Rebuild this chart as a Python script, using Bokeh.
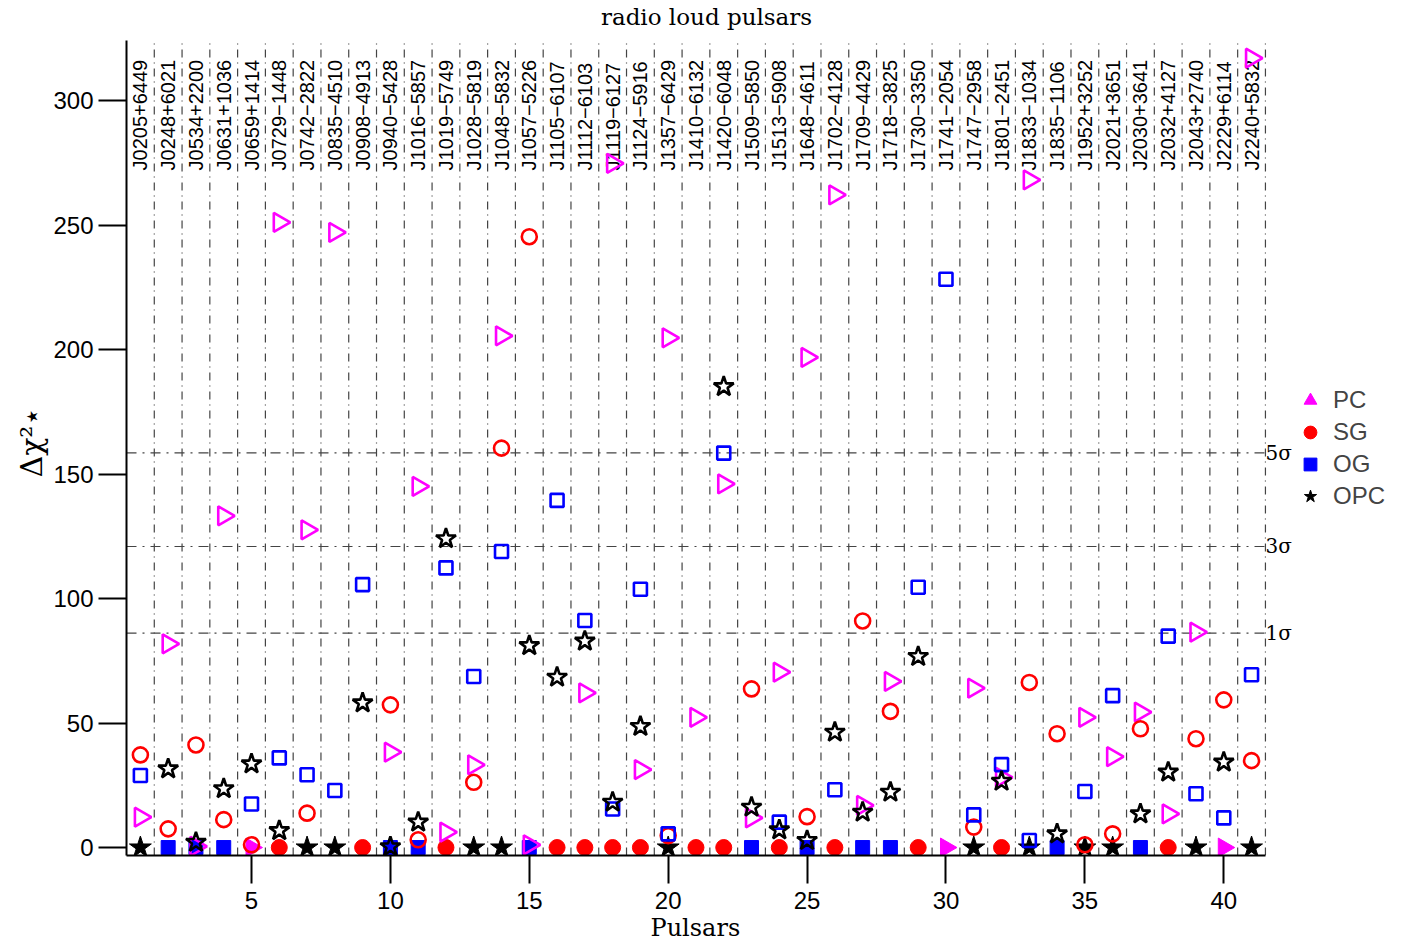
import numpy as np
from bokeh.plotting import figure
from bokeh.models import Range1d, FixedTicker, Label, Legend, LegendItem, Title
from bokeh.core.properties import value
from bokeh.embed import file_html
from bokeh.resources import INLINE

nan = float("nan")

pulsar_names = [
    "J0205+6449", "J0248+6021", "J0534+2200", "J0631+1036", "J0659+1414",
    "J0729\u22121448", "J0742\u22122822", "J0835\u22124510", "J0908\u22124913", "J0940\u22125428",
    "J1016\u22125857", "J1019\u22125749", "J1028\u22125819", "J1048\u22125832", "J1057\u22125226",
    "J1105\u22126107", "J1112\u22126103", "J1119\u22126127", "J1124\u22125916", "J1357\u22126429",
    "J1410\u22126132", "J1420\u22126048", "J1509\u22125850", "J1513\u22125908", "J1648\u22124611",
    "J1702\u22124128", "J1709\u22124429", "J1718\u22123825", "J1730\u22123350", "J1741\u22122054",
    "J1747\u22122958", "J1801\u22122451", "J1833\u22121034", "J1835\u22121106", "J1952+3252",
    "J2021+3651", "J2030+3641", "J2032+4127", "J2043+2740", "J2229+6114", "J2240+5832",
]

PC = [12.2, 81.8, 0.5, 133.2, 0.0, 251.1, 127.6, 247.0, nan, 38.3,
      145.0, 6.2, 33.2, 205.5, 1.1, nan, 62.1, 274.8, 31.3, 204.7,
      52.3, 146.0, 11.9, 70.4, 196.8, 262.1, 16.9, 66.7, nan, 0.0,
      64.0, 28.2, 268.1, nan, 52.3, 36.5, 54.4, 13.5, 86.5, 0.0, 317.0]

SG = [37.2, 7.5, 41.2, 11.2, 1.1, 0.0, 13.8, nan, 0.0, 57.3,
      3.1, 0.0, 26.2, 160.4, 245.3, 0.0, 0.0, 0.0, 0.0, 4.8,
      0.0, 0.0, 63.7, 0.0, 12.4, 0.0, 91.0, 54.7, 0.0, nan,
      8.2, 0.0, 66.3, 45.7, 1.1, 5.5, 47.7, 0.0, 43.7, 59.3, 34.9]

OG = [28.9, 0.0, 0.0, 0.0, 17.5, 36.0, 29.2, 22.9, 105.6, 0.0,
      0.0, 112.3, 68.7, 118.9, 0.0, 139.4, 91.2, 15.5, 103.7, 5.5,
      nan, 158.4, 0.0, 10.2, 0.0, 23.2, 0.0, 0.0, 104.5, 228.2,
      13.1, 33.3, 2.8, 0.0, 22.5, 61.0, 0.0, 84.9, 21.6, 11.9, 69.4]

OPC = [0.0, 31.6, 2.1, 23.6, 33.6, 6.8, 0.0, 0.0, 58.1, 0.3,
       10.2, 124.0, 0.0, 0.0, 81.1, 68.4, 82.9, 18.2, 48.6, 0.0,
       nan, 185.1, 16.2, 7.1, 2.8, 46.3, 14.2, 22.2, 76.7, nan,
       0.0, 26.6, 0.0, 5.5, 0.0, 0.0, 13.5, 30.3, 0.0, 34.3, 0.0]

model_names = ["PC", "SG", "OG", "OPC"]
sigma_levels = [86.1, 120.9, 158.5]
sigma_labels = ["1\u03c3", "3\u03c3", "5\u03c3"]
x_ticks = [5, 10, 15, 20, 25, 30, 35, 40]
y_ticks = [0, 50, 100, 150, 200, 250, 300]

# ---------------------------------------------------------------
n = len(pulsar_names)
xs = np.arange(1, n + 1)
stack = np.vstack([np.array(v, dtype=float) for v in (PC, SG, OG, OPC)])
best = np.nanargmin(stack, axis=0)

X_LO, X_HI = 0.5, n + 0.5          # axis extent
Y_LO, Y_HI = -3.2, 324.1

style = {
    "PC":  dict(marker="triangle", color="#ff00ff", fs=19, hs=19, angle=-np.pi / 2),
    "SG":  dict(marker="circle",   color="#ff0000", fs=16, hs=15, angle=0.0),
    "OG":  dict(marker="square",   color="#0000ff", fs=14, hs=13, angle=0.0),
    "OPC": dict(marker="star",     color="#000000", fs=23, hs=21, angle=0.0),
}

p = figure(width=1408, height=948, output_backend="svg", toolbar_location=None,
           x_range=Range1d(X_LO, 46.65), y_range=Range1d(Y_LO, 340.17),
           min_border_left=126, min_border_right=0, min_border_top=0,
           min_border_bottom=93, title=None)
p.outline_line_color = None
p.xgrid.visible = False
p.ygrid.visible = False

for ax, ticks in ((p.xaxis, x_ticks), (p.yaxis, y_ticks)):
    ax.ticker = FixedTicker(ticks=ticks)
    ax.minor_tick_line_color = None
    ax.major_tick_out = 28
    ax.major_tick_in = 0
    ax.major_tick_line_width = 2
    ax.axis_line_width = 2
    ax.major_tick_line_color = "black"
    ax.axis_line_color = "black"
    ax.major_label_text_font = "Liberation Sans"
    ax.major_label_text_font_size = "24px"
    ax.major_label_text_color = "black"
p.xaxis.bounds = (X_LO, X_HI)
p.yaxis.bounds = (Y_LO, Y_HI)
p.xaxis.major_label_standoff = 8
p.yaxis.major_label_standoff = 5

# axis titles (side-panel titles, offset to sit under / beside the axis extent)
p.add_layout(Title(text="Pulsars", align="left", offset=524, standoff=0,
                   text_font="DejaVu Serif", text_font_size="24px",
                   text_font_style="normal", text_color="black"), "below")
p.add_layout(Title(text="\u0394\u03c7\u00b2\u22c6", align="left", offset=378, standoff=4,
                   text_font="DejaVu Serif", text_font_size="30px",
                   text_font_style="normal", text_color="black"), "left")

# separators between pulsars
xb = np.arange(1.5, n + 0.6, 1.0)
p.segment(x0=xb, y0=np.full(len(xb), Y_LO), x1=xb, y1=np.full(len(xb), Y_HI),
          line_color="#444444", line_width=1.2, line_dash="8 5 1 5")

# significance levels
k_s = len(sigma_levels)
p.segment(x0=np.full(k_s, X_LO), y0=sigma_levels, x1=np.full(k_s, X_HI), y1=sigma_levels,
          line_color="#444444", line_width=1.2, line_dash="10 6 2 6")
p.text(x=np.full(k_s, X_HI), y=sigma_levels, text=sigma_labels, text_align="left",
       text_baseline="middle", text_font=value("DejaVu Serif"), text_font_size="20px",
       text_color="black")

# pulsar names
p.text(x=xs, y=np.full(n, 271.9), text=pulsar_names, angle=np.pi / 2,
       text_align="left", text_baseline="middle",
       text_font=value("Liberation Sans"), text_font_size="20px", text_color="black")

filled_r = {}
for k, m in enumerate(model_names):
    st = style[m]
    vals = stack[k]
    sel = best == k
    filled_r[m] = p.scatter(xs[sel], vals[sel], marker=st["marker"], size=st["fs"],
                            angle=st["angle"], fill_color=st["color"], line_color=st["color"],
                            line_width=1)
for k, m in enumerate(model_names):
    st = style[m]
    vals = stack[k]
    sel = (best != k) & ~np.isnan(vals)
    p.scatter(xs[sel], vals[sel], marker=st["marker"], size=st["hs"], angle=st["angle"],
              fill_color=None, line_color=st["color"], line_width=2.6)

legend = Legend(items=[LegendItem(label=m, renderers=[filled_r[m]]) for m in model_names],
                location=(1164, 343), border_line_color=None, background_fill_alpha=0,
                label_text_font="Liberation Sans", label_text_font_size="24px",
                glyph_width=40, glyph_height=32, label_height=32, spacing=-1,
                label_standoff=3, padding=0, margin=0)
p.add_layout(legend)

# title
p.add_layout(Label(x=21.38, y=333.5, text="radio loud pulsars", text_align="center",
                   text_baseline="alphabetic", text_font="DejaVu Serif",
                   text_font_size="23px", text_color="black"))

open("out.html", "w").write(file_html(p, INLINE))
